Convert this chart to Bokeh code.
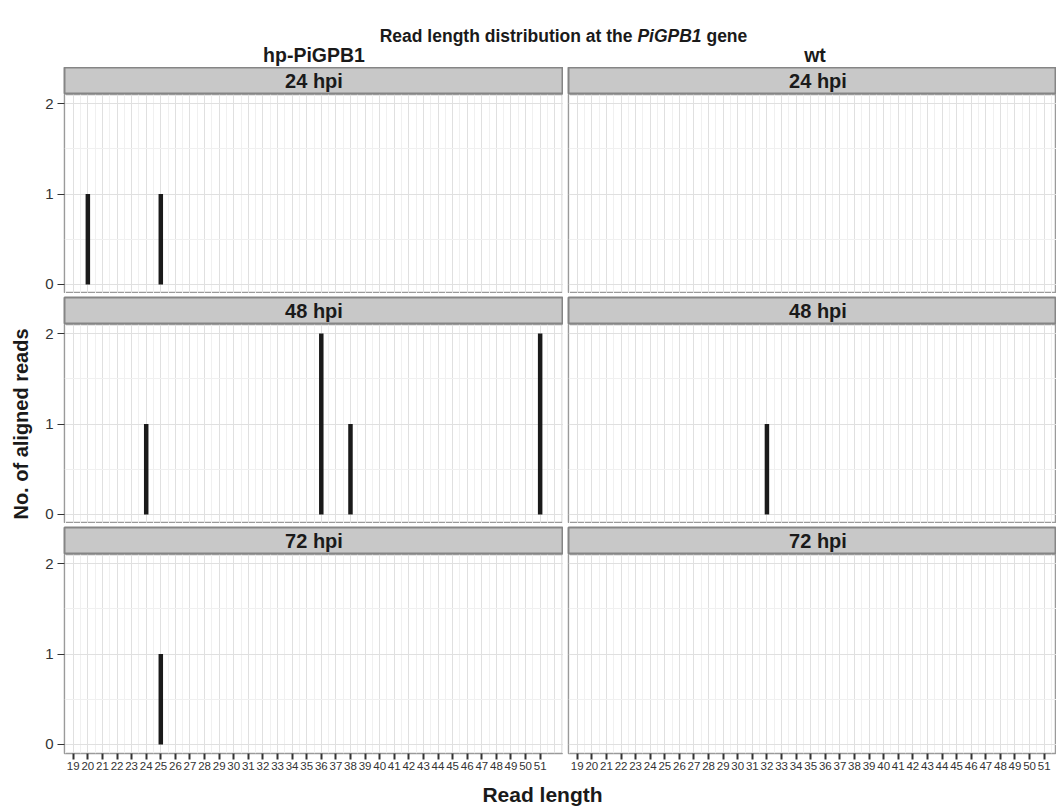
from bokeh.plotting import figure
from bokeh.layouts import column, row
from bokeh.models import Range1d, FixedTicker
from bokeh.core.properties import value
from bokeh.embed import file_html
from bokeh.resources import INLINE

FONT = "Liberation Sans"

# ---------------- data ----------------
genotypes = ["hp-PiGPB1", "wt"]
timepoints = ["24 hpi", "48 hpi", "72 hpi"]
tick_lengths = list(range(19, 52))          # x tick labels 19..51

hp_24_len = [20, 25]
hp_24_cnt = [1, 1]
hp_48_len = [24, 36, 38, 51]
hp_48_cnt = [1, 2, 1, 2]
hp_72_len = [25]
hp_72_cnt = [1]
wt_24_len = []
wt_24_cnt = []
wt_48_len = [32]
wt_48_cnt = [1]
wt_72_len = []
wt_72_cnt = []

series = {
    ("hp-PiGPB1", "24 hpi"): (hp_24_len, hp_24_cnt),
    ("hp-PiGPB1", "48 hpi"): (hp_48_len, hp_48_cnt),
    ("hp-PiGPB1", "72 hpi"): (hp_72_len, hp_72_cnt),
    ("wt", "24 hpi"): (wt_24_len, wt_24_cnt),
    ("wt", "48 hpi"): (wt_48_len, wt_48_cnt),
    ("wt", "72 hpi"): (wt_72_len, wt_72_cnt),
}
y_ticks = [0, 1, 2]

# ---------------- geometry ----------------
X0, X1 = 18.4, 52.6
LEFT_FRAME = 499
RIGHT_FRAME = 488
PX = LEFT_FRAME / (X1 - X0)
LEFT_BORDER = 64
GAP_H = 5
STRIP_H = 27
PANEL_H = 199
GAP_V = 4
AXIS_H = 24
HEADER_H = 67
FOOTER_H = 29
TOTAL_W = LEFT_BORDER + LEFT_FRAME + GAP_H + RIGHT_FRAME

TEXT_DARK = "#1a1a1a"


def xrange_for(ci):
    if ci == 0:
        return Range1d(X0, X1)
    return Range1d(X0, X0 + RIGHT_FRAME / PX)


def fig_width(ci):
    return LEFT_BORDER + LEFT_FRAME if ci == 0 else GAP_H + RIGHT_FRAME


def make_strip(label, ci, top_gap):
    p = figure(width=fig_width(ci), height=STRIP_H + top_gap,
               x_range=xrange_for(ci), y_range=Range1d(0, 1),
               x_axis_location=None, y_axis_location=None,
               output_backend="svg", toolbar_location=None,
               min_border_left=LEFT_BORDER if ci == 0 else GAP_H,
               min_border_right=0, min_border_top=top_gap, min_border_bottom=0,
               background_fill_color="#c8c8c8", border_fill_color="white",
               outline_line_color="#858585", outline_line_width=2)
    p.grid.visible = False
    p.text(x=[(X0 + X1) / 2], y=[0.5], text=[label], text_align="center",
           text_baseline="middle", text_font=value(FONT), text_font_style="bold",
           text_font_size="20px", text_color=TEXT_DARK)
    return p


def make_panel(geno, tp, ci, ri):
    bottom = ri == 2
    left = ci == 0
    p = figure(width=fig_width(ci), height=PANEL_H + (AXIS_H if bottom else 0),
               x_range=xrange_for(ci), y_range=Range1d(-0.1, 2.1),
               x_axis_location="below" if bottom else None,
               y_axis_location="left" if left else None,
               output_backend="svg", toolbar_location=None,
               min_border_left=LEFT_BORDER if left else GAP_H,
               min_border_right=0, min_border_top=0,
               min_border_bottom=AXIS_H if bottom else 0,
               background_fill_color="white", border_fill_color="white",
               outline_line_color="#9a9a9a", outline_line_width=1.5)
    # grids
    p.xgrid.ticker = FixedTicker(ticks=list(range(19, 53)),
                                 minor_ticks=[v + 0.5 for v in range(18, 53)])
    p.ygrid.ticker = FixedTicker(ticks=y_ticks, minor_ticks=[0.5, 1.5])
    p.grid.grid_line_color = "#e0e0e0"
    p.grid.grid_line_width = 1
    p.grid.minor_grid_line_color = "#f0f0f0"
    p.grid.minor_grid_line_width = 1

    if left:
        ax = p.yaxis[0]
        ax.ticker = FixedTicker(ticks=y_ticks)
        ax.axis_line_color = None
        ax.major_tick_line_color = "#333333"
        ax.major_tick_line_width = 1.2
        ax.major_tick_out = 7
        ax.major_tick_in = 0
        ax.minor_tick_line_color = None
        ax.major_label_text_font = FONT
        ax.major_label_text_font_size = "15px"
        ax.major_label_text_color = "#333333"
        ax.major_label_standoff = 4
        if ri == 1:
            ax.axis_label = "No. of aligned reads"
            ax.axis_label_text_font = FONT
            ax.axis_label_text_font_style = "bold"
            ax.axis_label_text_font_size = "20px"
            ax.axis_label_text_color = TEXT_DARK
            ax.axis_label_standoff = 10
    if bottom:
        ax = p.xaxis[0]
        ax.ticker = FixedTicker(ticks=tick_lengths)
        ax.axis_line_color = None
        ax.major_tick_line_color = "#333333"
        ax.major_tick_line_width = 2
        ax.major_tick_out = 6
        ax.major_tick_in = 0
        ax.minor_tick_line_color = None
        ax.major_label_text_font = FONT
        ax.major_label_text_font_size = "11.5px"
        ax.major_label_text_color = "#333333"
        ax.major_label_standoff = 2

    lens, cnts = series[(geno, tp)]
    if lens:
        p.vbar(x=lens, top=cnts, bottom=0, width=4.5 / PX,
               fill_color=TEXT_DARK, line_color=None)
    return p


columns = []
for ci, geno in enumerate(genotypes):
    kids = []
    for ri, tp in enumerate(timepoints):
        kids.append(make_strip(tp, ci, 0 if ri == 0 else GAP_V))
        kids.append(make_panel(geno, tp, ci, ri))
    columns.append(column(*kids, spacing=0))

# ---------------- header (page pixel coordinates) ----------------
header = figure(width=TOTAL_W, height=HEADER_H,
                x_range=Range1d(0, TOTAL_W), y_range=Range1d(HEADER_H, 0),
                x_axis_location=None, y_axis_location=None,
                output_backend="svg", toolbar_location=None,
                min_border=0, outline_line_color=None)
header.grid.visible = False

TITLE_FS = 17.5
part1 = "Read length distribution at the"
part2 = "PiGPB1"
part3 = "gene"
space = 0.278 * TITLE_FS
w1, w2, w3 = 14.446 * TITLE_FS, 3.668 * TITLE_FS, 2.334 * TITLE_FS
title_center = 563
total = w1 + space + w2 + space + w3
tx = title_center - total / 2
ty = 35
for txt, xpos, style in [(part1, tx, "bold"),
                         (part2, tx + w1 + space, "bold italic"),
                         (part3, tx + w1 + space + w2 + space, "bold")]:
    header.text(x=[xpos], y=[ty], text=[txt], text_align="left",
                text_baseline="middle", text_font=value(FONT),
                text_font_style=style, text_font_size=f"{TITLE_FS}px",
                text_color=TEXT_DARK)

left_center = LEFT_BORDER + LEFT_FRAME / 2
right_center = LEFT_BORDER + LEFT_FRAME + GAP_H + LEFT_FRAME / 2 - 3
header.text(x=[left_center, right_center], y=[54, 54], text=genotypes,
            text_align="center", text_baseline="middle", text_font=value(FONT),
            text_font_style="bold", text_font_size="19.5px", text_color=TEXT_DARK)

# ---------------- footer ----------------
footer = figure(width=TOTAL_W, height=FOOTER_H,
                x_range=Range1d(0, TOTAL_W), y_range=Range1d(FOOTER_H, 0),
                x_axis_location=None, y_axis_location=None,
                output_backend="svg", toolbar_location=None,
                min_border=0, outline_line_color=None)
footer.grid.visible = False
footer.text(x=[542], y=[17], text=["Read length"], text_align="center",
            text_baseline="middle", text_font=value(FONT), text_font_style="bold",
            text_font_size="21px", text_color=TEXT_DARK)

layout = column(header, row(*columns, spacing=0), footer, spacing=0)

open("out.html", "w").write(file_html(layout, INLINE))
